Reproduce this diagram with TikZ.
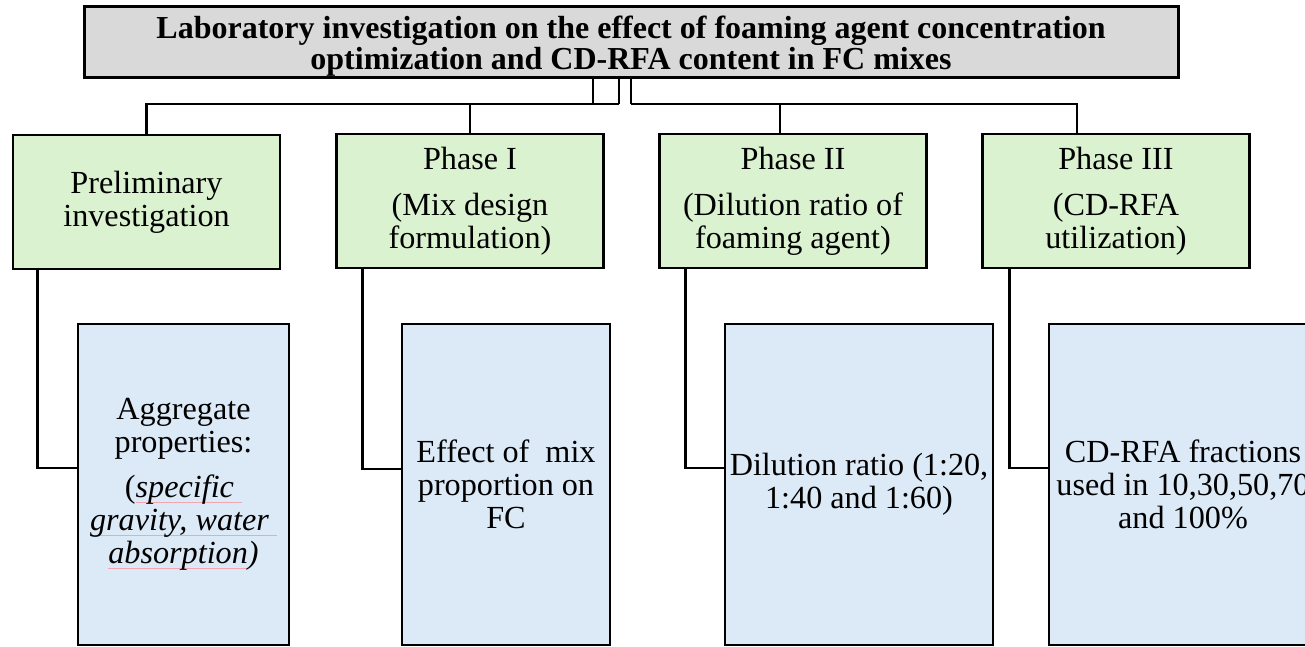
\documentclass[tikz,border=0pt]{standalone}
\usepackage{fontspec}
\setmainfont{Liberation Serif}
\definecolor{titlegray}{HTML}{D9D9D9}
\definecolor{phasegreen}{HTML}{DAF2D0}
\definecolor{resblue}{HTML}{DCE9F6}
\definecolor{ulpink}{HTML}{F2A6B4}
\newcommand\spellul[1]{\setbox0\hbox{#1}\rlap{\textcolor{ulpink}{\rule[-5pt]{\wd0}{0.9pt}}}\box0}
\tikzset{
  titlebox/.style={draw, line width=3pt, fill=titlegray, inner sep=0pt,
    minimum width=1094pt, minimum height=71pt},
  titletext/.style={inner sep=0pt, align=center,
    font=\fontsize{32}{31}\selectfont\bfseries},
  phasebox/.style={draw, line width=2.8pt, fill=phasegreen, inner sep=0pt,
    minimum width=267pt, minimum height=134pt, align=center,
    font=\fontsize{32.2}{33}\selectfont},
  resbox/.style={draw, line width=2.8pt, fill=resblue, inner sep=0pt,
    minimum height=321pt, align=center,
    font=\fontsize{32.2}{33}\selectfont},
  link/.style={line width=2.8pt}
}
\begin{document}
\begin{tikzpicture}[x=1pt,y=-1pt]
\useasboundingbox (0,0) rectangle (1305,647);
\clip (0,0) rectangle (1305,647);
\fill[white] (0,0) rectangle (1305,647);

\node[titlebox] (t) at (631,42.5) {};
\node[titletext] (tt) at (631,46)
  {Laboratory investigation on the effect of foaming agent concentration\\
   optimization and CD-RFA content in FC mixes};

\node[phasebox] (g1) at (146.5,202) {Preliminary\\investigation};
\node[phasebox] (g2) at (470,201) {Phase I\\[13pt](Mix design\\formulation)};
\node[phasebox] (g3) at (793,201) {Phase II\\[13pt](Dilution ratio of\\foaming agent)};
\node[phasebox] (g4) at (1116,201) {Phase III\\[13pt](CD-RFA\\utilization)};

\node[resbox, minimum width=211pt] (b1) at (183.5,484.5)
  {Aggregate\\properties:\\[12pt](\textit{\spellul{specific }}\\\textit{\spellul{gravity, water }}\\\textit{\spellul{absorption})}};
\node[resbox, minimum width=208pt] (b2) at (506,484.5)
  {Effect of~ mix\\proportion on\\FC};
\node[resbox, minimum width=268pt] (b3) at (859,484.5)
  {Dilution ratio (1:20,\\1:40 and 1:60)};
\node[resbox, minimum width=268pt] (b4) at (1183,484.5)
  {CD-RFA fractions\\used in 10,30,50,70\\and 100\%};

% junction points under the title
\coordinate (j1) at (593,104);
\coordinate (j2) at (619,104);
\coordinate (j3) at (631,104);

\draw[link] (t.south -| j1) -- (j1);
\draw[link] (t.south -| j2) -- (j2);
\draw[link] (t.south -| j3) -- (j3);

\draw[link] (g1.north) |- (j2);
\draw[link] (g2.north) -- (g2.north |- j2);
\coordinate (g3t) at ([xshift=-13pt]g3.north);
\coordinate (g4t) at ([xshift=-39pt]g4.north);
\draw[link] (g4t) |- (j3);
\draw[link] (g3t) -- (g3t |- j3);

% phase boxes to result boxes
\draw[link] ([xshift=26pt]g1.south west) |- ([yshift=16.5pt]b1.west);
\draw[link] ([xshift=27pt]g2.south west) |- ([yshift=15.5pt]b2.west);
\draw[link] ([xshift=27pt]g3.south west) |- ([yshift=16.5pt]b3.west);
\draw[link] ([xshift=28pt]g4.south west) |- ([yshift=16.5pt]b4.west);
\end{tikzpicture}
\end{document}
